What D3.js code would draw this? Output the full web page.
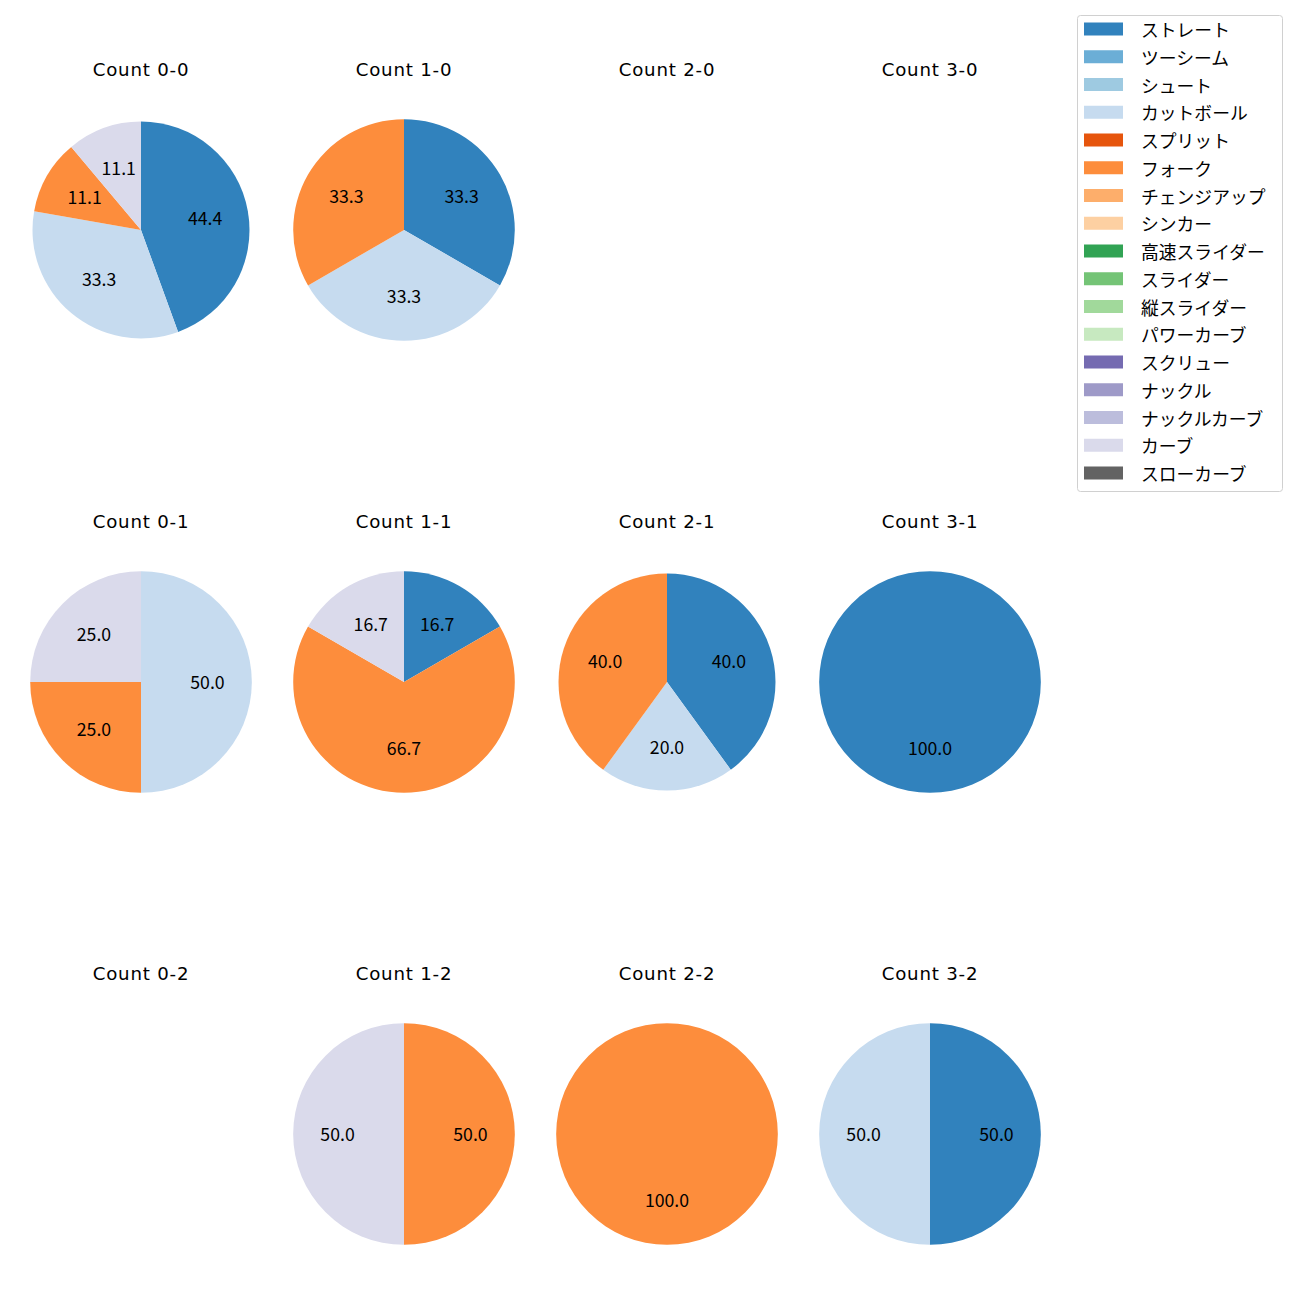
<!DOCTYPE html>
<html><head><meta charset="utf-8">
<script src="https://cdn.jsdelivr.net/npm/d3@7"></script>
<style>body{margin:0;background:#fff;} text{font-family:"Noto Sans CJK JP","Noto Sans",sans-serif;}</style>
</head><body>
<svg id="chart" width="1300" height="1300"></svg>
<script>
const pitchTypes = ["ストレート","ツーシーム","シュート","カットボール","スプリット","フォーク","チェンジアップ","シンカー","高速スライダー","スライダー","縦スライダー","パワーカーブ","スクリュー","ナックル","ナックルカーブ","カーブ","スローカーブ"];
const pitchColors = ["#3182bd","#6baed6","#9ecae1","#c6dbef","#e6550d","#fd8d3c","#fdae6b","#fdd0a2","#31a354","#74c476","#a1d99b","#c7e9c0","#756bb1","#9e9ac8","#bcbddc","#dadaeb","#636363"];
const countTitles = ["Count 0-0","Count 1-0","Count 2-0","Count 3-0","Count 0-1","Count 1-1","Count 2-1","Count 3-1","Count 0-2","Count 1-2","Count 2-2","Count 3-2"];
// pitch counts per ball-strike count
const c00 = {"ストレート":4,"カットボール":3,"フォーク":1,"カーブ":1};
const c10 = {"ストレート":1,"カットボール":1,"フォーク":1};
const c20 = {};
const c30 = {};
const c01 = {"カットボール":2,"フォーク":1,"カーブ":1};
const c11 = {"ストレート":1,"フォーク":4,"カーブ":1};
const c21 = {"ストレート":2,"カットボール":1,"フォーク":2};
const c31 = {"ストレート":1};
const c02 = {};
const c12 = {"フォーク":1,"カーブ":1};
const c22 = {"フォーク":1};
const c32 = {"ストレート":1,"カットボール":1};
const panels = [c00,c10,c20,c30,c01,c11,c21,c31,c02,c12,c22,c32];

const svg = d3.select("#chart");
const color = d3.scaleOrdinal().domain(pitchTypes).range(pitchColors);
const colX = d3.scalePoint().domain([0,1,2,3]).range([141,930]);
const rowY = d3.scalePoint().domain([0,1,2]).range([230,1134]);
const radiusFor = i => (i===0||i===6) ? 108.5 : 110.8;

panels.forEach((p,i)=>{
  const col = i%4, row = Math.floor(i/4);
  const cx = colX(col), cy = rowY(row);
  svg.append("text").attr("x",cx).attr("y",cy-161+6.6).attr("text-anchor","middle")
    .style("font-family","'DejaVu Sans',sans-serif").style("letter-spacing","0.8px")
    .attr("font-size",18.2).attr("fill","#000").text(countTitles[i]);
  const data = pitchTypes.filter(t=>p[t]).map(t=>({type:t,value:p[t]}));
  if(!data.length) return;
  const total = d3.sum(data,d=>d.value);
  const r = radiusFor(i);
  const pie = d3.pie().sort(null).value(d=>d.value);
  const arcs = pie(data);
  const g = svg.append("g").attr("transform",`translate(${cx},${cy})`);
  const arc = d3.arc().innerRadius(0).outerRadius(r);
  g.selectAll("path").data(arcs).enter().append("path")
    .attr("d",arc).attr("fill",d=>color(d.data.type));
  g.selectAll("text").data(arcs).enter().append("text")
    .attr("transform",d=>{
      const a = (d.startAngle+d.endAngle)/2;
      return `translate(${Math.sin(a)*r*0.6},${-Math.cos(a)*r*0.6+6.5})`;
    })
    .attr("text-anchor","middle")
    .attr("font-size",17.7).attr("fill","#000")
    .text(d=>(d.data.value/total*100).toFixed(1));
});

// legend
const lg = svg.append("g");
lg.append("rect").attr("x",1077.5).attr("y",15.5).attr("width",205).attr("height",476)
  .attr("rx",3).attr("fill","#fff").attr("stroke","#d0d0d0");
const ly = d3.scalePoint().domain(pitchTypes).range([29,473]);
pitchTypes.forEach(t=>{
  lg.append("rect").attr("x",1084).attr("y",ly(t)-6.5).attr("width",39).attr("height",13).attr("fill",color(t));
  lg.append("text").attr("x",1141).attr("y",ly(t)).attr("dominant-baseline","central")
    .attr("font-size",17.8).attr("fill","#000").text(t);
});
</script>
</body></html>
